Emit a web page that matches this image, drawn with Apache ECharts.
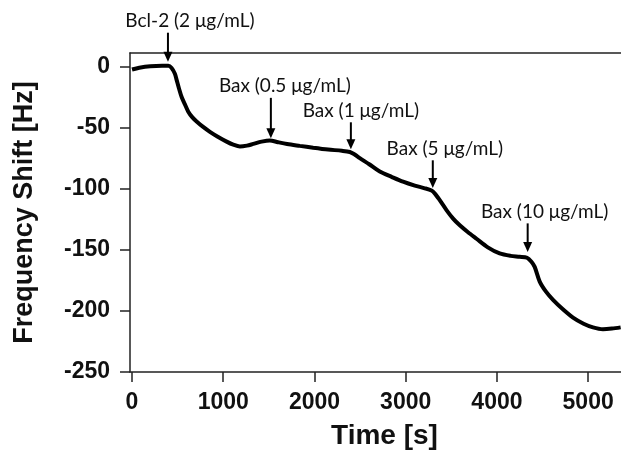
<!DOCTYPE html>
<html>
<head>
<meta charset="utf-8">
<script src="https://cdn.jsdelivr.net/npm/echarts@6/dist/echarts.min.js"></script>
<style>
  html, body { margin: 0; padding: 0; background: #fff; }
  #chart { width: 621px; height: 453px; }
</style>
</head>
<body>
<div id="chart"></div>
<script>
// frequency shift trace
const timeSec = [0, 80, 200, 330, 398, 434, 470, 489, 515, 544, 580, 617, 660, 708, 780, 854, 940, 1037, 1110, 1183,
  1260, 1329, 1420, 1511, 1600, 1700, 1840, 1986, 2150, 2300, 2388, 2440, 2497, 2600, 2716, 2850, 2971, 3100, 3200, 3283,
  3320, 3360, 3447, 3520, 3593, 3680, 3776, 3900, 4030, 4150, 4249, 4330, 4380, 4414, 4469, 4540, 4615, 4720, 4834, 4950,
  5053, 5162, 5260, 5356];
const shiftHz = [-2.5, -1.0, 0.2, 0.5, 0.5, -1.3, -6, -11, -18, -25, -31, -37, -41.5, -45, -49.5, -53.5, -57.5, -61.5, -64, -65.5,
  -64.8, -63.4, -61.5, -60.5, -62, -63.5, -65, -66.5, -68, -69, -70, -72, -75, -80, -86, -90.5, -94.3, -97.5, -99.5, -101.5,
  -104, -108, -117.5, -124.5, -130, -135.5, -141, -148, -153, -155, -155.7, -156.5, -160, -164, -176, -184.5, -191, -198.5, -205.5, -210.5,
  -213.5, -215, -214.5, -213.5];

// injection annotations (arrows)
const annotationLabels = ["Bcl-2 (2 μg/mL)", "Bax (0.5 μg/mL)", "Bax (1 μg/mL)", "Bax (5 μg/mL)", "Bax (10 μg/mL)"];
const annotationTime = [394, 1522, 2399, 3297, 4337];
const annotationTail = [27.6, -25.7, -45.7, -76.8, -128.4];
const annotationTip = [3.9, -58.8, -67.8, -99.4, -151.9];

const xTicks = [0, 1000, 2000, 3000, 4000, 5000];
const yTicks = [0, -50, -100, -150, -200, -250];

// pixel shift of each label relative to its arrow
const labelShift = [22, 14, 10, 12, 17];

const tickFont = { fontFamily: "'Liberation Sans Narrow', 'Liberation Sans'", fontWeight: "bold", color: "#111" };
const titleFont = { fontFamily: "Liberation Sans", fontWeight: "bold", color: "#111" };
const axisLine = { show: true, onZero: false, lineStyle: { color: "#222", width: 1.5 } };

function renderArrow(params, api) {
  const i = params.dataIndex;
  const tail = api.coord([api.value(0), api.value(1)]);
  const tip = api.coord([api.value(0), api.value(2)]);
  const headLen = 10;
  const halfW = 4.5;
  return {
    type: "group",
    children: [
      {
        type: "line",
        shape: { x1: tail[0], y1: tail[1], x2: tip[0], y2: tip[1] - headLen + 1 },
        style: { stroke: "#000", lineWidth: 2 },
      },
      {
        type: "polygon",
        shape: { points: [[tip[0] - halfW, tip[1] - headLen], [tip[0] + halfW, tip[1] - headLen], [tip[0], tip[1]]] },
        style: { fill: "#000" },
      },
      {
        type: "text",
        x: tail[0] + labelShift[i],
        y: tail[1] - 2,
        style: {
          text: annotationLabels[i],
          align: "center",
          verticalAlign: "bottom",
          fontFamily: "Lato",
          fontSize: 19,
          fill: "#111",
        },
      },
    ],
  };
}

const chart = echarts.init(document.getElementById("chart"));
chart.setOption({
  animation: false,
  backgroundColor: "#fff",
  grid: { left: 130, right: 0, top: 53, bottom: 81, containLabel: false, outerBoundsMode: "none" },
  xAxis: [
    {
      type: "value",
      min: -22,
      max: 5360,
      name: "Time [s]",
      nameLocation: "middle",
      nameGap: 50,
      nameTextStyle: { ...titleFont, fontSize: 28, padding: [0, 0, 0, 18] },
      axisLine: axisLine,
      axisTick: { show: true, length: 10, customValues: xTicks, lineStyle: { color: "#222", width: 1.5 } },
      axisLabel: { ...tickFont, fontSize: 23, margin: 19, customValues: xTicks, formatter: (v) => String(v) },
      splitLine: { show: false },
    },
    {
      type: "value",
      position: "top",
      min: -22,
      max: 5360,
      axisLine: axisLine,
      axisTick: { show: false },
      axisLabel: { show: false },
      splitLine: { show: false },
    },
  ],
  yAxis: {
    type: "value",
    min: -250,
    max: 11,
    name: "Frequency Shift [Hz]",
    nameLocation: "middle",
    nameRotate: 90,
    nameGap: 92,
    nameTextStyle: { ...titleFont, fontSize: 27 },
    axisLine: axisLine,
    axisTick: { show: true, length: 10, customValues: yTicks, lineStyle: { color: "#222", width: 1.5 } },
    axisLabel: { ...tickFont, fontSize: 23, margin: 20, customValues: yTicks, formatter: (v) => String(v) },
    splitLine: { show: false },
  },
  series: [
    {
      type: "line",
      data: timeSec.map((t, i) => [t, shiftHz[i]]),
      smooth: 0.3,
      symbol: "none",
      clip: false,
      lineStyle: { color: "#000", width: 4 },
    },
    {
      type: "custom",
      clip: false,
      silent: true,
      renderItem: renderArrow,
      encode: { x: 0, y: 1 },
      data: annotationTime.map((t, i) => [t, annotationTail[i], annotationTip[i]]),
    },
  ],
});
</script>
</body>
</html>
